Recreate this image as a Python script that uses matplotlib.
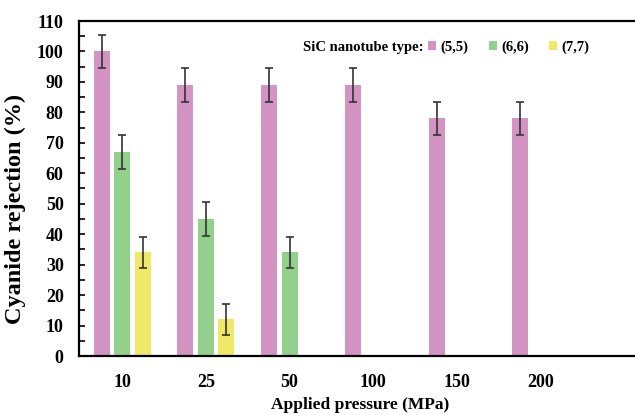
import matplotlib.pyplot as plt
import numpy as np

plt.rcParams['font.family'] = ['Liberation Serif', 'DejaVu Serif']
plt.rcParams['font.weight'] = 'bold'

pressures = ['10', '25', '50', '100', '150', '200']
types = ['(5,5)', '(6,6)', '(7,7)']
rej_55 = [100, 89, 89, 89, 78, 78]
rej_66 = [67, 45, 34]
rej_77 = [34, 12]
err_55 = [5.5, 5.5, 5.5, 5.5, 5.5, 5.5]
err_66 = [5.5, 5.5, 5]
err_77 = [5, 5]

colors = ['#d394c4', '#92d08c', '#f0e868']

fig = plt.figure(figsize=(6.35, 4.15), dpi=100)
ax = fig.add_axes([79 / 635, 59 / 415, 1 - 79 / 635 + 0.01, 335 / 415])

x = np.arange(len(pressures))
w = 0.19
step = 0.245
series = [(rej_55, err_55), (rej_66, err_66), (rej_77, err_77)]
for i, (vals, errs) in enumerate(series):
    xs = x[:len(vals)] + (i - 1) * step
    ax.bar(xs, vals, width=w, color=colors[i], label=types[i], zorder=2)
    ax.errorbar(xs, vals, yerr=errs, fmt='none', ecolor='#333333',
                elinewidth=1.2, capsize=3, capthick=1.2, zorder=3)

ax.set_xlim(-0.515, 6.2)
ax.set_ylim(0, 110)
ax.set_yticks(range(0, 111, 10))
ax.set_yticks(range(5, 110, 10), minor=True)
ax.set_xticks(x)
ax.set_xticklabels(pressures)
ax.tick_params(axis='y', which='both', direction='in', length=4, width=1.2,
               labelsize=13, pad=11)
ax.tick_params(axis='x', length=0, labelsize=13, pad=13)
for s in ['left', 'top', 'bottom']:
    ax.spines[s].set_linewidth(1.6)
ax.spines['right'].set_visible(False)

ax.set_xlabel('Applied pressure (MPa)', fontsize=12.5, fontweight='bold', labelpad=4)
ax.set_ylabel('Cyanide rejection (%)', fontsize=17.5, fontweight='bold')
ax.yaxis.set_label_coords(-0.094, 0.44)

fig.text(303 / 635, 1 - 47 / 415, 'SiC nanotube type:', fontsize=10.5,
         fontweight='bold', va='center', ha='left')
ax.legend(loc='center left', bbox_to_anchor=(428 / 635, 1 - 47 / 415),
          bbox_transform=fig.transFigure, ncol=3, frameon=False,
          fontsize=10.5, handlelength=0.55, handleheight=0.55, handletextpad=0.3,
          columnspacing=1.4, borderpad=0, borderaxespad=0)

plt.savefig('out.png', dpi=100)
plt.close()
